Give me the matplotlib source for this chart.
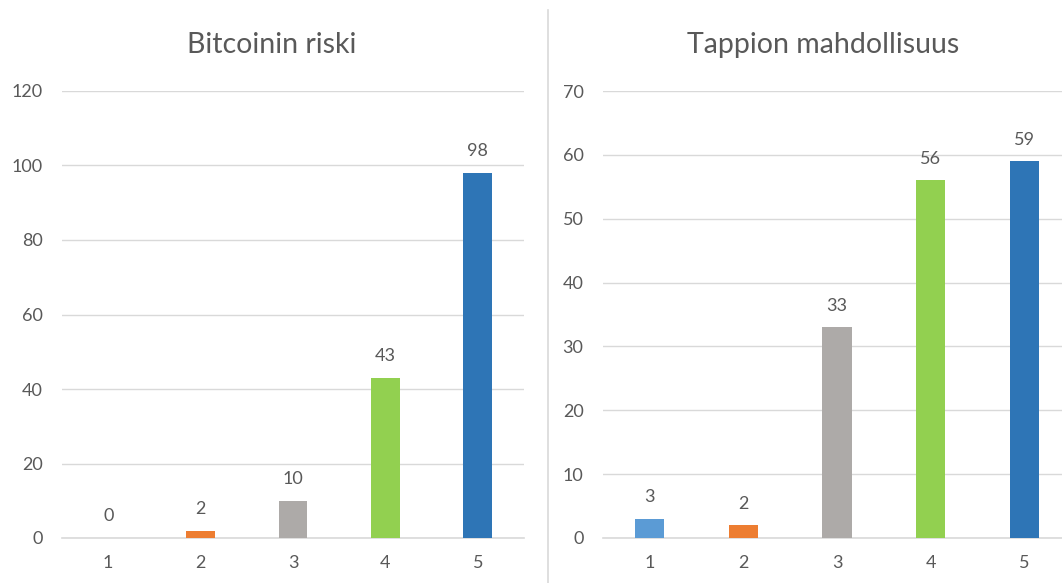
import matplotlib
matplotlib.use("Agg")
import matplotlib.pyplot as plt
from matplotlib.lines import Line2D

plt.rcParams['font.family'] = ['Lato', 'DejaVu Sans']

categories = ["1", "2", "3", "4", "5"]
left_title = "Bitcoinin riski"
left_values = [0, 2, 10, 43, 98]
left_yticks = [0, 20, 40, 60, 80, 100, 120]
right_title = "Tappion mahdollisuus"
right_values = [3, 2, 33, 56, 59]
right_yticks = [0, 10, 20, 30, 40, 50, 60, 70]
colors = ["#5B9BD5", "#ED7D31", "#ADAAA8", "#92D050", "#2E75B6"]

TXT = "#595959"
GRID = "#D9D9D9"
W, H = 1062, 583
fig = plt.figure(figsize=(W / 100, H / 100), dpi=100)

def panel(rect, title, values, yticks, title_x):
    ax = fig.add_axes(rect)
    x = list(range(1, len(categories) + 1))
    ax.bar(x, values, width=0.31, color=colors, zorder=3)
    ax.set_xlim(0.5, 5.5)
    ax.set_ylim(yticks[0], yticks[-1])
    ax.set_yticks(yticks)
    ax.set_xticks(x)
    ax.set_xticklabels(categories)
    for s in ["top", "right", "left"]:
        ax.spines[s].set_visible(False)
    ax.spines["bottom"].set_color(GRID)
    ax.spines["bottom"].set_linewidth(1.2)
    ax.grid(axis="y", color=GRID, linewidth=1.0, zorder=0)
    ax.tick_params(axis="both", length=0, colors=TXT, labelsize=13)
    ax.tick_params(axis="y", pad=14)
    ax.tick_params(axis="x", pad=12)
    for xi, v in zip(x, values):
        ax.annotate(str(v), (xi, v), xytext=(0, 15.5), textcoords="offset points",
                    ha="center", va="center", fontsize=13, color=TXT)
    fig.text(title_x / W, 1 - 45 / H, title, ha="center", va="center",
             fontsize=20.5, color=TXT)
    ax.set_facecolor("none")
    return ax

lb = 1 - 538 / H
lt = 1 - 91 / H
panel([62 / W, lb, (524 - 62) / W, lt - lb], left_title, left_values, left_yticks, 272)
panel([603 / W, lb, 468 / W, lt - lb], right_title, right_values, right_yticks, 823)

fig.add_artist(Line2D([548 / W, 548 / W], [0, 1 - 10 / H], transform=fig.transFigure,
                      color=GRID, linewidth=1.2))

fig.savefig("out.png", dpi=100)
